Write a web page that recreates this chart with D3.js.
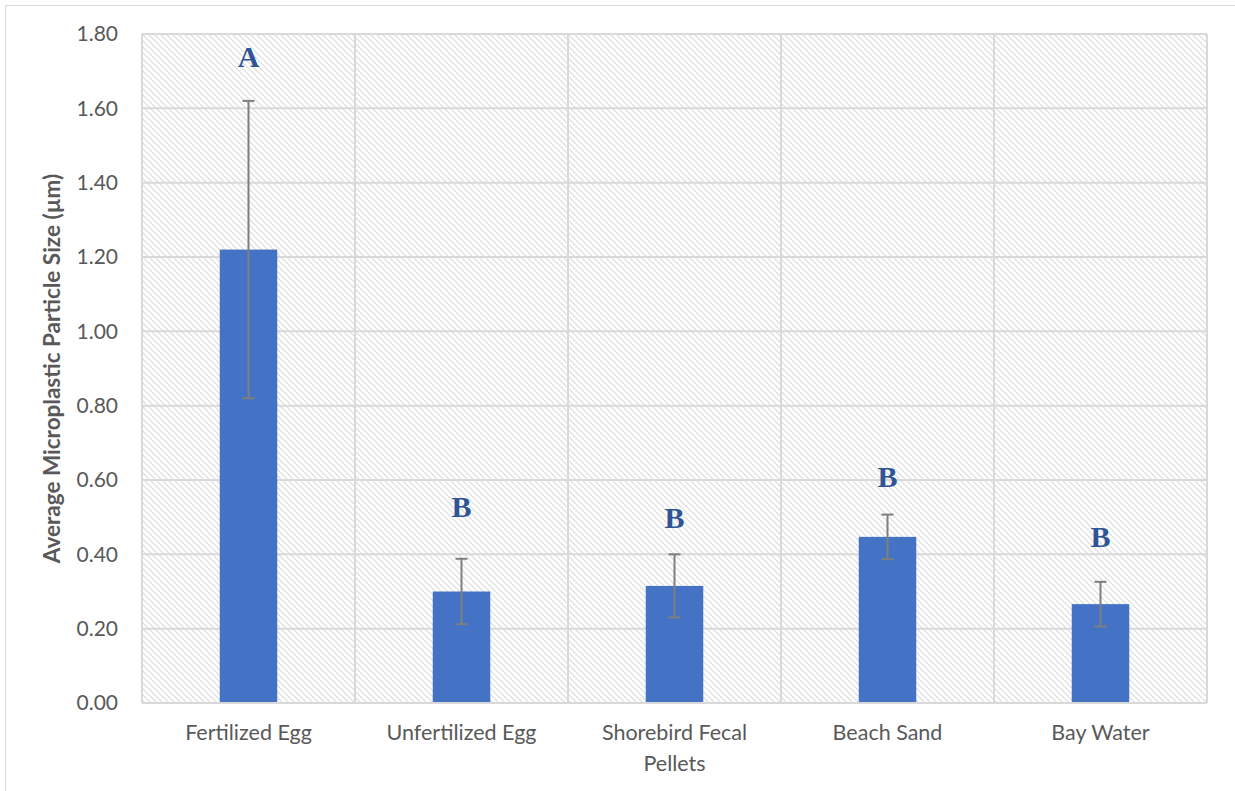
<!DOCTYPE html>
<html>
<head>
<meta charset="utf-8">
<script src="https://cdn.jsdelivr.net/npm/d3@7"></script>
<style>
  html, body { margin: 0; padding: 0; background: #fff; }
  svg { display: block; }
</style>
</head>
<body>
<svg id="chart" width="1235" height="791"></svg>
<script>
// Sample groups
const categories = ["Fertilized Egg", "Unfertilized Egg", "Shorebird Fecal Pellets", "Beach Sand", "Bay Water"];
// Mean particle size (µm)
const means = [1.22, 0.30, 0.315, 0.447, 0.266];
// Error bar half-widths
const errors = [0.40, 0.088, 0.085, 0.060, 0.060];
// Significance letters and the value at which each sits
const letters = ["A", "B", "B", "B", "B"];
const letterValues = [1.71, 0.50, 0.47, 0.58, 0.42];
// Y-axis ticks
const yTicks = [0, 0.2, 0.4, 0.6, 0.8, 1.0, 1.2, 1.4, 1.6, 1.8];

const svg = d3.select("#chart");
const W = 1235, H = 791;
const margin = { left: 142, right: 28, top: 34, bottom: 88 };
const plotW = W - margin.left - margin.right;
const plotH = H - margin.top - margin.bottom;

const gridColor = "#d9d9d9";
const textColor = "#595959";
const font = "Lato, 'Open Sans', sans-serif";

// Outer chart frame
svg.append("rect")
  .attr("x", 5.5).attr("y", 5.5)
  .attr("width", W).attr("height", H)
  .attr("fill", "none").attr("stroke", "#d9d9d9").attr("stroke-width", 1);

// Wide downward diagonal fill for the plot area
const defs = svg.append("defs");
const pat = defs.append("pattern")
  .attr("id", "hatch")
  .attr("patternUnits", "userSpaceOnUse")
  .attr("width", 6).attr("height", 6);
pat.append("rect").attr("width", 6).attr("height", 6).attr("fill", "#fff");
pat.append("path")
  .attr("d", "M-1,-1 L7,7 M-1,5 L1,7 M5,-1 L7,1")
  .attr("stroke", "#dcdcdc").attr("stroke-width", 1.2);

const g = svg.append("g").attr("transform", `translate(${margin.left},${margin.top})`);

const x = d3.scaleBand().domain(categories).range([0, plotW]).paddingInner(0).paddingOuter(0);
const y = d3.scaleLinear().domain([0, 1.8]).range([plotH, 0]);

g.append("rect")
  .attr("width", plotW).attr("height", plotH)
  .attr("fill", "url(#hatch)");

// Horizontal gridlines
g.append("g")
  .selectAll("line").data(yTicks).join("line")
  .attr("x1", 0).attr("x2", plotW)
  .attr("y1", d => y(d)).attr("y2", d => y(d))
  .attr("stroke", gridColor).attr("stroke-width", 2);

// Vertical gridlines at category boundaries
const bounds = categories.map(c => x(c)).concat([plotW]);
g.append("g")
  .selectAll("line").data(bounds).join("line")
  .attr("x1", d => d).attr("x2", d => d)
  .attr("y1", 0).attr("y2", plotH)
  .attr("stroke", gridColor).attr("stroke-width", 2);

// Bars
const barW = x.bandwidth() * 0.27;
g.append("g")
  .selectAll("rect").data(categories).join("rect")
  .attr("x", c => x(c) + x.bandwidth() / 2 - barW / 2)
  .attr("y", (c, i) => y(means[i]))
  .attr("width", barW)
  .attr("height", (c, i) => plotH - y(means[i]))
  .attr("fill", "#4472c4");

// Error bars
const eb = g.append("g").attr("stroke", "#7f7f7f").attr("stroke-width", 2).attr("fill", "none");
categories.forEach((c, i) => {
  const cx = x(c) + x.bandwidth() / 2;
  const hi = y(means[i] + errors[i]), lo = y(means[i] - errors[i]);
  eb.append("line").attr("x1", cx).attr("x2", cx).attr("y1", hi).attr("y2", lo);
  eb.append("line").attr("x1", cx - 6).attr("x2", cx + 6).attr("y1", hi).attr("y2", hi);
  eb.append("line").attr("x1", cx - 6).attr("x2", cx + 6).attr("y1", lo).attr("y2", lo);
});

// Baseline
g.append("line")
  .attr("x1", 0).attr("x2", plotW).attr("y1", plotH).attr("y2", plotH)
  .attr("stroke", gridColor).attr("stroke-width", 2);

// Significance letters
g.append("g")
  .selectAll("text").data(categories).join("text")
  .attr("x", c => x(c) + x.bandwidth() / 2)
  .attr("y", (c, i) => y(letterValues[i]))
  .attr("text-anchor", "middle")
  .attr("font-family", "'Liberation Serif', 'Times New Roman', serif")
  .attr("font-weight", "bold")
  .attr("font-size", 30)
  .attr("fill", "#2f5597")
  .text((c, i) => letters[i]);

// Y axis
const yAxis = g.append("g")
  .call(d3.axisLeft(y).tickValues(yTicks).tickFormat(d3.format(".2f")).tickSize(0).tickPadding(24));
yAxis.select(".domain").remove();
yAxis.selectAll("text")
  .attr("font-family", font).attr("font-size", 21).attr("fill", textColor);

// X axis labels (wrapped to the category width)
const xAxis = g.append("g").attr("transform", `translate(0,${plotH})`)
  .call(d3.axisBottom(x).tickSize(0).tickPadding(0));
xAxis.select(".domain").remove();
xAxis.selectAll("text").remove();
xAxis.selectAll(".tick").each(function(c) {
  const words = c.split(" ");
  const lines = [];
  let cur = "";
  const maxChars = 16;
  words.forEach(w => {
    const t = cur ? cur + " " + w : w;
    if (t.length > maxChars && cur) { lines.push(cur); cur = w; } else cur = t;
  });
  lines.push(cur);
  const t = d3.select(this).append("text")
    .attr("text-anchor", "middle")
    .attr("font-family", font).attr("font-size", 21.5).attr("fill", textColor);
  lines.forEach((ln, k) => {
    t.append("tspan").attr("x", 0).attr("y", 37 + k * 31).text(ln);
  });
});

// Y axis title
svg.append("text")
  .attr("transform", `translate(60,${margin.top + plotH / 2}) rotate(-90)`)
  .attr("text-anchor", "middle")
  .attr("font-family", font).attr("font-weight", "bold")
  .attr("font-size", 22.5).attr("fill", textColor)
  .text("Average Microplastic Particle Size (µm)");
</script>
</body>
</html>
